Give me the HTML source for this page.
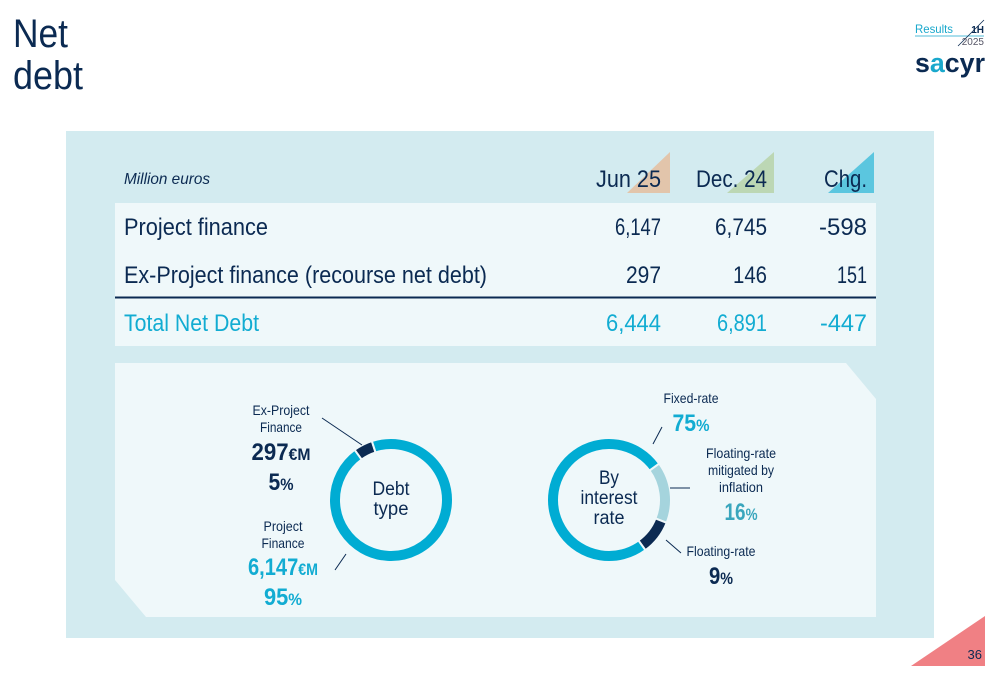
<!DOCTYPE html>
<html><head><meta charset="utf-8">
<style>
html,body{margin:0;padding:0;background:#fff;}
svg{display:block;font-family:"Liberation Sans",sans-serif;}
</style></head>
<body>
<svg id="slide" width="1000" height="685" viewBox="0 0 1000 685" xmlns="http://www.w3.org/2000/svg">
  <text x="13" y="47" font-size="40" fill="#0b2a52" textLength="55" lengthAdjust="spacingAndGlyphs">Net</text>
  <text x="13" y="89" font-size="40" fill="#0b2a52" textLength="70" lengthAdjust="spacingAndGlyphs">debt</text>

  <g>
    <text x="915" y="33" font-size="12" fill="#1aa8cc" textLength="38" lengthAdjust="spacingAndGlyphs">Results</text>
    <line x1="915" y1="36" x2="984" y2="36" stroke="#1aa8cc" stroke-width="0.8"/>
    <line x1="958" y1="46" x2="984" y2="20" stroke="#0b2a52" stroke-width="0.8"/>
    <text x="984" y="33" font-size="10" text-anchor="end" fill="#0b2a52" font-weight="bold">1H</text>
    <text x="984" y="45" font-size="10" text-anchor="end" fill="#556">2025</text>
    <text x="915" y="72" font-size="27" font-weight="bold" fill="#0b2a52" textLength="70" lengthAdjust="spacingAndGlyphs">s<tspan fill="#1aa8cc">a</tspan>cyr</text>
  </g>

  <rect x="66" y="131" width="868" height="507" fill="#d3ebf0"/>

  <text x="124" y="184" font-size="16" font-style="italic" fill="#0b2a52" textLength="86" lengthAdjust="spacingAndGlyphs">Million euros</text>
  <polygon points="627,193 670,193 670,152" fill="#e2c5ab"/>
  <polygon points="727,193 774,193 774,152" fill="#bcd7b4"/>
  <polygon points="828,193 874,193 874,152" fill="#5bc6df"/>
  <text x="596" y="187" font-size="24" fill="#0b2a52" textLength="65" lengthAdjust="spacingAndGlyphs">Jun 25</text>
  <text x="696" y="187" font-size="24" fill="#0b2a52" textLength="71" lengthAdjust="spacingAndGlyphs">Dec. 24</text>
  <text x="824" y="187" font-size="24" fill="#0b2a52" textLength="43" lengthAdjust="spacingAndGlyphs">Chg.</text>

  <rect x="115" y="203" width="761" height="143" fill="#eff8fa"/>
  <g font-size="24" fill="#0b2a52" lengthAdjust="spacingAndGlyphs">
    <text x="124" y="235" textLength="144" lengthAdjust="spacingAndGlyphs">Project finance</text>
    <text x="615" y="235" textLength="46" lengthAdjust="spacingAndGlyphs">6,147</text>
    <text x="715" y="235" textLength="52" lengthAdjust="spacingAndGlyphs">6,745</text>
    <text x="819" y="235" textLength="48" lengthAdjust="spacingAndGlyphs">-598</text>
    <text x="124" y="283" textLength="363" lengthAdjust="spacingAndGlyphs">Ex-Project finance (recourse net debt)</text>
    <text x="626" y="283" textLength="35" lengthAdjust="spacingAndGlyphs">297</text>
    <text x="733" y="283" textLength="34" lengthAdjust="spacingAndGlyphs">146</text>
    <text x="837" y="283" textLength="30" lengthAdjust="spacingAndGlyphs">151</text>
  </g>
  <line x1="115" y1="297.5" x2="876" y2="297.5" stroke="#0b2a52" stroke-width="2"/>
  <g font-size="24" fill="#12acd2">
    <text x="124" y="331" textLength="135" lengthAdjust="spacingAndGlyphs">Total Net Debt</text>
    <text x="606" y="331" textLength="55" lengthAdjust="spacingAndGlyphs">6,444</text>
    <text x="717" y="331" textLength="50" lengthAdjust="spacingAndGlyphs">6,891</text>
    <text x="820" y="331" textLength="47" lengthAdjust="spacingAndGlyphs">-447</text>
  </g>

  <polygon points="115,363 846,363 876,399 876,617 146,617 115,580" fill="#eff8fa"/>

  <g id="donut1"></g>
  <g id="donut2"></g>

  <g text-anchor="middle" fill="#0b2a52" font-size="19">
    <text x="391" y="495" textLength="37" lengthAdjust="spacingAndGlyphs">Debt</text>
    <text x="391" y="515" textLength="35" lengthAdjust="spacingAndGlyphs">type</text>
    <text x="609" y="484" textLength="20" lengthAdjust="spacingAndGlyphs">By</text>
    <text x="609" y="504" textLength="57" lengthAdjust="spacingAndGlyphs">interest</text>
    <text x="609" y="524" textLength="31" lengthAdjust="spacingAndGlyphs">rate</text>
  </g>

  <g text-anchor="middle" fill="#0b2a52">
    <text x="281" y="415" font-size="14" textLength="57" lengthAdjust="spacingAndGlyphs">Ex-Project</text>
    <text x="281" y="432" font-size="14" textLength="42" lengthAdjust="spacingAndGlyphs">Finance</text>
    <text x="281" y="460" font-size="24" font-weight="bold" textLength="59" lengthAdjust="spacingAndGlyphs">297<tspan font-size="17">€M</tspan></text>
    <text x="281" y="490" font-size="24" font-weight="bold" textLength="25" lengthAdjust="spacingAndGlyphs">5<tspan font-size="17">%</tspan></text>
    <text x="283" y="531" font-size="14" textLength="39" lengthAdjust="spacingAndGlyphs">Project</text>
    <text x="283" y="548" font-size="14" textLength="43" lengthAdjust="spacingAndGlyphs">Finance</text>
    <text x="283" y="575" font-size="24" font-weight="bold" fill="#12acd2" textLength="70" lengthAdjust="spacingAndGlyphs">6,147<tspan font-size="17">€M</tspan></text>
    <text x="283" y="605" font-size="24" font-weight="bold" fill="#12acd2" textLength="38" lengthAdjust="spacingAndGlyphs">95<tspan font-size="17">%</tspan></text>

    <text x="691" y="403" font-size="14" textLength="55" lengthAdjust="spacingAndGlyphs">Fixed-rate</text>
    <text x="691" y="431" font-size="24" font-weight="bold" fill="#12acd2" textLength="37" lengthAdjust="spacingAndGlyphs">75<tspan font-size="17">%</tspan></text>
    <text x="741" y="458" font-size="14" textLength="70" lengthAdjust="spacingAndGlyphs">Floating-rate</text>
    <text x="741" y="475" font-size="14" textLength="66" lengthAdjust="spacingAndGlyphs">mitigated by</text>
    <text x="741" y="492" font-size="14" textLength="44" lengthAdjust="spacingAndGlyphs">inflation</text>
    <text x="741" y="520" font-size="24" font-weight="bold" fill="#3aa6bd" textLength="33" lengthAdjust="spacingAndGlyphs">16<tspan font-size="17">%</tspan></text>
    <text x="721" y="556" font-size="14" textLength="69" lengthAdjust="spacingAndGlyphs">Floating-rate</text>
    <text x="721" y="584" font-size="24" font-weight="bold" textLength="24" lengthAdjust="spacingAndGlyphs">9<tspan font-size="17">%</tspan></text>
  </g>
  <g stroke="#0b2a52" stroke-width="1">
    <line x1="322" y1="418" x2="362" y2="445"/>
    <line x1="335" y1="570" x2="346" y2="554"/>
    <line x1="662" y1="427" x2="653" y2="444"/>
    <line x1="670" y1="488" x2="690" y2="488"/>
    <line x1="666" y1="540" x2="681" y2="553"/>
  </g>

  <polygon points="911,666 985,666 985,616" fill="#f08084"/>
  <text x="982" y="659" font-size="13" text-anchor="end" fill="#0b2a52">36</text>
</svg>
<script>
const debtTypeLabels = ["Ex-Project Finance", "Project Finance"];
const debtTypeValues = [5, 95];
const rateLabels = ["Floating-rate mitigated by inflation", "Floating-rate", "Fixed-rate"];
const rateValues = [16, 9, 75];

const NS = "http://www.w3.org/2000/svg";
function polar(cx, cy, r, deg) {
  const a = (deg - 90) * Math.PI / 180;
  return [cx + r * Math.cos(a), cy + r * Math.sin(a)];
}
function drawDonut(gid, labels, values, colors, startDeg, cx, cy, r0, r1) {
  const g = document.getElementById(gid);
  const total = values.reduce((a, b) => a + b, 0);
  let ang = startDeg;
  values.forEach((v, i) => {
    const sweep = v / total * 360;
    const a0 = ang, a1 = ang + sweep;
    const large = sweep > 180 ? 1 : 0;
    const p0 = polar(cx, cy, r1, a0), p1 = polar(cx, cy, r1, a1);
    const q1 = polar(cx, cy, r0, a1), q0 = polar(cx, cy, r0, a0);
    const d = `M${p0[0]},${p0[1]} A${r1},${r1} 0 ${large} 1 ${p1[0]},${p1[1]} L${q1[0]},${q1[1]} A${r0},${r0} 0 ${large} 0 ${q0[0]},${q0[1]} Z`;
    const path = document.createElementNS(NS, "path");
    path.setAttribute("d", d);
    path.setAttribute("fill", colors[i]);
    path.setAttribute("stroke", "#eff8fa");
    path.setAttribute("stroke-width", "2");
    
    
    const t = document.createElementNS(NS, "title");
    t.textContent = labels[i] + ": " + v + "%";
    path.appendChild(t);
    g.appendChild(path);
    ang = a1;
  });
}
drawDonut("donut1", debtTypeLabels, debtTypeValues, ["#0b2a52", "#00acd3"], -36, 391, 500, 50, 62);
drawDonut("donut2", rateLabels, rateValues, ["#a5d4dd", "#0b2a52", "#00acd3"], 54, 609, 500, 50, 62);
</script>
</body></html>
